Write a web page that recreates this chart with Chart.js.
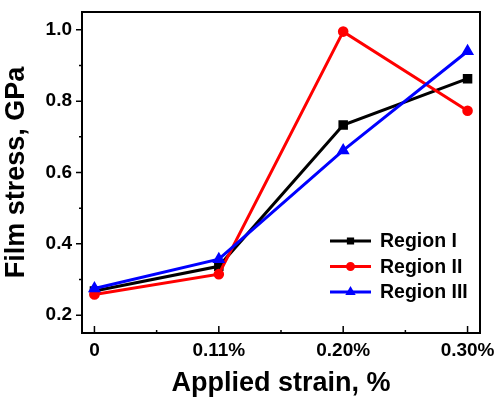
<!DOCTYPE html>
<html>
<head>
<meta charset="utf-8">
<script src="https://cdn.jsdelivr.net/npm/chart.js@4.4.1/dist/chart.umd.min.js"></script>
<style>
html, body { margin: 0; padding: 0; background: #fff; }
</style>
</head>
<body>
<canvas id="stressChart" width="494" height="399"></canvas>
<script>
// values
const strainLabels = ['0', '0.11%', '0.20%', '0.30%'];
const regionI = [0.268, 0.337, 0.733, 0.863];
const regionII = [0.258, 0.315, 0.995, 0.773];
const regionIII = [0.275, 0.357, 0.662, 0.940];
const yTicks = [0.2, 0.4, 0.6, 0.8, 1.0];
const yMinorTicks = [0.3, 0.5, 0.7, 0.9];
const xMinorTicks = [0.5, 1.5, 2.5];

const FONT = "'Liberation Sans', Arial, sans-serif";

function toPoints(arr) {
    return arr.map((v, i) => ({ x: i, y: v }));
}

// box round the plot + small tick marks (x ticks point inward, y ticks outward)
const frameTicks = {
    id: 'frameTicks',
    afterDraw(chart) {
        const { ctx, chartArea: a, scales: { x, y } } = chart;
        ctx.save();
        ctx.strokeStyle = '#000';
        ctx.lineWidth = 2;
        ctx.strokeRect(a.left, a.top, a.right - a.left, a.bottom - a.top);
        ctx.lineWidth = 1.5;
        ctx.beginPath();
        yTicks.forEach(v => { const p = y.getPixelForValue(v); ctx.moveTo(a.left - 6, p); ctx.lineTo(a.left, p); });
        yMinorTicks.forEach(v => { const p = y.getPixelForValue(v); ctx.moveTo(a.left - 3, p); ctx.lineTo(a.left, p); });
        strainLabels.forEach((_, i) => { const p = x.getPixelForValue(i); ctx.moveTo(p, a.bottom - 7); ctx.lineTo(p, a.bottom); });
        xMinorTicks.forEach(v => { const p = x.getPixelForValue(v); ctx.moveTo(p, a.bottom - 3); ctx.lineTo(p, a.bottom); });
        ctx.stroke();
        ctx.restore();
    }
};

// legend drawn inside the plot, lower right
const innerLegend = {
    id: 'innerLegend',
    afterDatasetsDraw(chart) {
        const { ctx, chartArea: a } = chart;
        const x0 = a.right - 150;
        const y0 = a.bottom - 92;
        ctx.save();
        chart.data.datasets.forEach((ds, i) => {
            const yy = y0 + i * 25.5;
            ctx.strokeStyle = ds.borderColor;
            ctx.lineWidth = 3;
            ctx.beginPath();
            ctx.moveTo(x0, yy);
            ctx.lineTo(x0 + 41, yy);
            ctx.stroke();
            ctx.fillStyle = ds.borderColor;
            Chart.helpers.drawPoint(ctx, { pointStyle: ds.pointStyle, radius: 3, rotation: 0, borderWidth: 1 }, x0 + 20.5, yy);
            ctx.fillStyle = '#000';
            ctx.font = "bold 19.5px " + FONT;
            ctx.textBaseline = 'middle';
            ctx.textAlign = 'left';
            ctx.fillText(ds.label, x0 + 50, yy + 1);
        });
        ctx.restore();
    }
};

const ctx = document.getElementById('stressChart').getContext('2d');
const stressChart = new Chart(ctx, {
    type: 'line',
    data: {
        datasets: [
            {
                label: 'Region I', data: toPoints(regionI), order: 2,
                borderColor: '#000000', backgroundColor: '#000000',
                pointStyle: 'rect', pointRadius: 4.6, borderWidth: 3
            },
            {
                label: 'Region II', data: toPoints(regionII), order: 1,
                borderColor: '#ff0000', backgroundColor: '#ff0000',
                pointStyle: 'circle', pointRadius: 3.8, borderWidth: 3
            },
            {
                label: 'Region III', data: toPoints(regionIII), order: 0,
                borderColor: '#0000ff', backgroundColor: '#0000ff',
                pointStyle: 'triangle', pointRadius: 4.5, borderWidth: 3
            }
        ]
    },
    options: {
        responsive: false,
        animation: false,
        devicePixelRatio: 1,
        layout: { padding: { top: 12, right: 14, left: 0, bottom: 0 } },
        plugins: { legend: { display: false }, tooltip: { enabled: false } },
        elements: { line: { tension: 0 }, point: { borderWidth: 1 } },
        scales: {
            x: {
                type: 'linear', min: -0.1, max: 3.1,
                afterBuildTicks: s => { s.ticks = strainLabels.map((_, i) => ({ value: i })); },
                afterFit: s => { s.height = 66; s.paddingLeft = 0; s.paddingRight = 0; },
                ticks: {
                    callback: v => strainLabels[v],
                    color: '#000', font: { family: FONT, size: 19, weight: 'bold' },
                    padding: 6, maxRotation: 0, autoSkip: false
                },
                grid: { display: false, drawTicks: false },
                border: { display: false },
                title: {
                    display: true, text: 'Applied strain, %', color: '#000',
                    font: { family: FONT, size: 27, weight: 'bold', lineHeight: 1 },
                    padding: { top: 0, bottom: 2 }
                }
            },
            y: {
                type: 'linear', min: 0.15, max: 1.05,
                afterBuildTicks: s => { s.ticks = yTicks.map(v => ({ value: v })); },
                afterFit: s => { s.width = 82; s.paddingTop = 0; s.paddingBottom = 0; },
                ticks: {
                    callback: v => v.toFixed(1),
                    color: '#000', font: { family: FONT, size: 19, weight: 'bold' },
                    padding: 10
                },
                grid: { display: false, drawTicks: false },
                border: { display: false },
                title: {
                    display: true, text: 'Film stress, GPa', color: '#000',
                    font: { family: FONT, size: 27, weight: 'bold', lineHeight: 1 },
                    padding: { top: 3, bottom: 0 }
                }
            }
        }
    },
    plugins: [frameTicks, innerLegend]
});
</script>
</body>
</html>
